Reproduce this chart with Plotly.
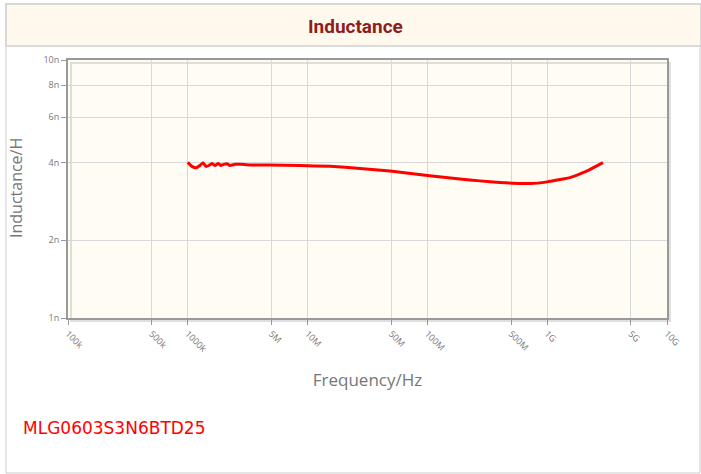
import plotly.graph_objects as go

# ---- data ----
freq_hz = [1.0e6, 1.06e6, 1.13e6, 1.19e6, 1.26e6, 1.34e6, 1.42e6, 1.50e6, 1.59e6,
           1.69e6, 1.79e6, 1.89e6, 2.0e6, 2.12e6, 2.25e6, 2.48e6, 2.73e6, 3.3e6,
           4.85e6, 8.6e6, 15.4e6, 27.4e6, 48.7e6, 100e6, 187e6, 275e6, 404e6,
           718e6, 1.0e9, 1.55e9, 1.88e9, 2.27e9, 2.92e9]
inductance_nh = [4.01, 3.90, 3.83, 3.83, 3.90, 4.00, 3.87, 3.90, 3.97,
                 3.90, 3.97, 3.90, 3.94, 3.96, 3.90, 3.94, 3.94, 3.92,
                 3.92, 3.90, 3.87, 3.80, 3.71, 3.57, 3.46, 3.40, 3.35,
                 3.32, 3.37, 3.50, 3.62, 3.76, 4.00]
inductance_h = [v * 1e-9 for v in inductance_nh]

x_tickvals = [1e5, 5e5, 1e6, 5e6, 1e7, 5e7, 1e8, 5e8, 1e9, 5e9, 1e10]
x_ticktext = ["100k", "500k", "1000k", "5M", "10M", "50M", "100M", "500M", "1G", "5G", "10G"]
y_tickvals = [1e-9, 2e-9, 4e-9, 6e-9, 8e-9, 10e-9]
y_ticktext = ["1n", "2n", "4n", "6n", "8n", "10n"]
series_name = "MLG0603S3N6BTD25"
title_text = "Inductance"

W, H = 701, 474
L, R, T, B = 68, 667, 60, 318


def px(x):
    return (x - L) / (R - L)


def py(y):
    return (B - y) / (B - T)


fig = go.Figure()
fig.add_trace(go.Scatter(
    x=freq_hz, y=inductance_h, mode="lines", name=series_name,
    line=dict(color="#ff0000", width=3, shape="spline", smoothing=0.3),
    showlegend=False, hoverinfo="x+y"))

tickfont = dict(family="Open Sans, sans-serif", size=9, color="#777777")

fig.update_layout(
    width=W, height=H,
    margin=dict(l=L, r=W - R, t=T, b=H - B),
    paper_bgcolor="white",
    plot_bgcolor="#fffcf3",
    xaxis=dict(
        type="log", range=[5, 10], tickvals=x_tickvals, ticktext=x_ticktext,
        tickangle=45, tickfont=tickfont, ticks="outside", ticklen=5,
        tickcolor="#999999", showgrid=True, gridcolor="#d8d8d8", gridwidth=1,
        showline=True, linecolor="#999999", linewidth=2, mirror=True,
        zeroline=False,
        title=dict(text="Frequency/Hz", font=dict(family="Open Sans, sans-serif",
                                                   size=17, color="#777777"),
                   standoff=20),
    ),
    yaxis=dict(
        type="log", range=[-9, -8], tickvals=y_tickvals, ticktext=y_ticktext,
        tickfont=tickfont, ticks="outside", ticklen=5, tickcolor="#999999",
        showgrid=True, gridcolor="#d8d8d8", gridwidth=1,
        showline=True, linecolor="#999999", linewidth=2, mirror=True,
        zeroline=False,
    ),
    shapes=[
        # outer border
        dict(type="rect", xref="paper", yref="paper",
             x0=px(6), x1=px(700), y0=py(473), y1=py(4),
             line=dict(color="#cccccc", width=1), fillcolor="rgba(0,0,0,0)", layer="below"),
        # title bar
        dict(type="rect", xref="paper", yref="paper",
             x0=px(6), x1=px(701), y0=py(46), y1=py(4),
             line=dict(color="#d0d0d0", width=1.5), fillcolor="#fef9ec", layer="below"),
        # plot shadow
        dict(type="rect", xref="paper", yref="paper",
             x0=px(L + 3), x1=px(R + 3), y0=py(B + 3), y1=py(T + 3),
             line=dict(color="rgba(0,0,0,0.12)", width=2), fillcolor="rgba(0,0,0,0)",
             layer="below"),
    ],
    annotations=[
        dict(text=title_text, xref="paper", yref="paper", x=px(355), y=py(26),
             showarrow=False, xanchor="center", yanchor="middle",
             font=dict(family="Roboto, Open Sans, sans-serif", size=19,
                       color="#8f1d1d", weight="bold")),
        dict(text="Inductance/H", xref="paper", yref="paper", x=px(16), y=py(188),
             showarrow=False, xanchor="center", yanchor="middle", textangle=-90,
             font=dict(family="Open Sans, sans-serif", size=16, color="#777777")),
        dict(text=series_name, xref="paper", yref="paper", x=px(21), y=py(428),
             showarrow=False, xanchor="left", yanchor="middle",
             font=dict(family="DejaVu Sans, sans-serif", size=17, color="#ff0000")),
    ],
)

fig.write_html("out.html", config={"displayModeBar": False},
               post_script="document.body.style.margin='0';document.body.style.padding='0';")
